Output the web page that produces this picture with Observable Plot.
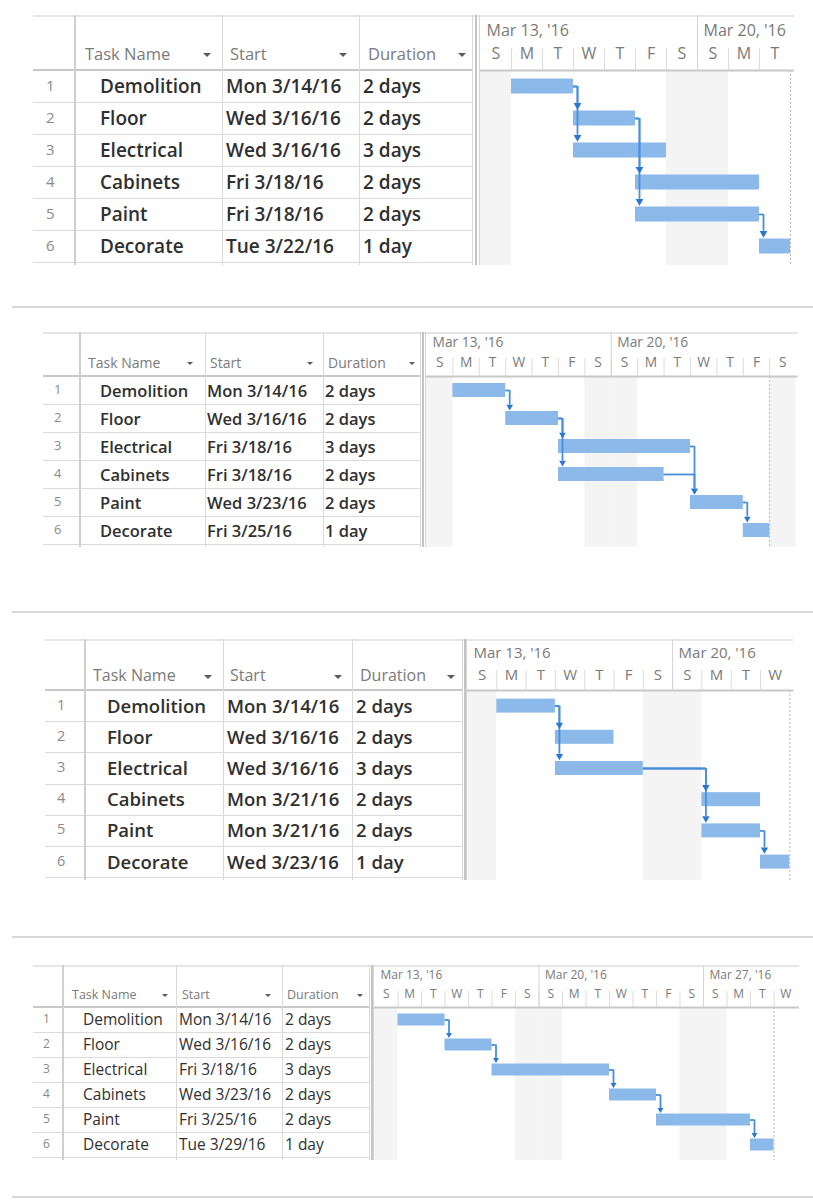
<!DOCTYPE html>
<html>
<head>
<meta charset="utf-8">
<script src="https://cdn.jsdelivr.net/npm/d3@7"></script>
<script src="https://cdn.jsdelivr.net/npm/@observablehq/plot@0.6"></script>
<style>
  body { margin: 0; background: #fff; font-family: "Open Sans", "Noto Sans", sans-serif; }
  #root { position: relative; width: 813px; height: 1200px; overflow: hidden; background: #fff; }
  .panel { position: absolute; left: 0; width: 813px; }
  .ln { position: absolute; }
  .tx { position: absolute; white-space: nowrap; }
  .dd { position: absolute; width: 0; height: 0; border-left-style: solid; border-right-style: solid; border-top-style: solid;
        border-left-color: transparent; border-right-color: transparent; border-top-color: #5a5a5a; }
</style>
</head>
<body>
<div id="root"></div>
<script>
// ---------------- DATA ----------------
const rowNumbers = [1, 2, 3, 4, 5, 6];
const taskNames = ["Demolition", "Floor", "Electrical", "Cabinets", "Paint", "Decorate"];
const columnHeaders = ["Task Name", "Start", "Duration"];
const dayLetters = ["S", "M", "T", "W", "T", "F", "S"]; // Sunday .. Saturday
const weekLabels = ["Mar 13, '16", "Mar 20, '16", "Mar 27, '16"];

const starts1 = ["Mon 3/14/16", "Wed 3/16/16", "Wed 3/16/16", "Fri 3/18/16", "Fri 3/18/16", "Tue 3/22/16"];
const durations1 = ["2 days", "2 days", "3 days", "2 days", "2 days", "1 day"];
const links1 = [[1, 2], [1, 3], [2, 4], [2, 5], [5, 6]];

const starts2 = ["Mon 3/14/16", "Wed 3/16/16", "Fri 3/18/16", "Fri 3/18/16", "Wed 3/23/16", "Fri 3/25/16"];
const durations2 = ["2 days", "2 days", "3 days", "2 days", "2 days", "1 day"];
const links2 = [[1, 2], [2, 3], [2, 4], [3, 5], [4, 5], [5, 6]];

const starts3 = ["Mon 3/14/16", "Wed 3/16/16", "Wed 3/16/16", "Mon 3/21/16", "Mon 3/21/16", "Wed 3/23/16"];
const durations3 = ["2 days", "2 days", "3 days", "2 days", "2 days", "1 day"];
const links3 = [[1, 2], [1, 3], [3, 4], [3, 5], [5, 6]];

const starts4 = ["Mon 3/14/16", "Wed 3/16/16", "Fri 3/18/16", "Wed 3/23/16", "Fri 3/25/16", "Tue 3/29/16"];
const durations4 = ["2 days", "2 days", "3 days", "2 days", "2 days", "1 day"];
const links4 = [[1, 2], [2, 3], [3, 4], [4, 5], [5, 6]];

const timelineStart = "3/13/16";

// ---------------- LAYOUT (positions / sizes / styles) ----------------
const separators = [307, 612, 937, 1197];
const layouts = [
  {starts: starts1, durations: durations1, links: links1, nDays: 10,
   top: 15, left: 33, cols: [42, 147, 137, 114], gap: 7, headerH: 55, rowH: 32, dayW: 31, extra: 4,
   bodyFs: 19, headFs: 16.5, numFs: 15, tlFs: 16, barH: 15, numPad: 13, namePad: 25, cellPad: 4,
   headPad: [10, 8, 9], arrowOff: [15, 16, 11], headY: 38, weekY: 15, tickLen: 22, weight: 600, dd: 4, arrowSide: 10},
  {starts: starts2, durations: durations2, links: links2, nDays: 14,
   top: 332, left: 43, cols: [37, 125, 118, 98], gap: 5, headerH: 44, rowH: 28, dayW: 26.4, extra: 2,
   bodyFs: 16.5, headFs: 14, numFs: 13, tlFs: 13.8, barH: 14, numPad: 11, namePad: 20, cellPad: 2,
   headPad: [8, 5, 5], arrowOff: [15, 13, 9], headY: 30, weekY: 10, tickLen: 18, weight: 600, dd: 3.5, arrowSide: 8.5},
  {starts: starts3, durations: durations3, links: links3, nDays: 11,
   top: 639, left: 45, cols: [40, 138, 129, 111], gap: 4, headerH: 51, rowH: 31.2, dayW: 29.3, extra: 4,
   bodyFs: 18.5, headFs: 16, numFs: 14.5, tlFs: 15, barH: 14, numPad: 12, namePad: 22, cellPad: 4,
   headPad: [8, 7, 8], arrowOff: [15, 14, 12], headY: 36, weekY: 14, tickLen: 20, weight: 600, dd: 4, arrowSide: 9.5},
  {starts: starts4, durations: durations4, links: links4, nDays: 18,
   top: 965, left: 33, cols: [30, 113, 106, 88], gap: 4, headerH: 42, rowH: 25, dayW: 23.5, extra: 2,
   bodyFs: 15.5, headFs: 12.5, numFs: 12, tlFs: 12, barH: 12, numPad: 10, namePad: 20, cellPad: 3,
   headPad: [9, 6, 5], arrowOff: [11, 14, 10], headY: 29, weekY: 10, tickLen: 16, weight: 400, dd: 3, arrowSide: 7.5}
];

const BAR = "#8ab9ea", LINK = "#4a8edb", ARROW = "#2a77d2", WEEKEND = "#f4f4f4";
const GRID = "#dadada", HEADLINE = "#c8c8c8", HEADTXT = "#7a7a7a", NUMTXT = "#8a8a8a", BODYTXT = "#303030";

// ---------------- HELPERS ----------------
function parseDate(s) {
  const m = s.match(/(\d+)\/(\d+)\/(\d+)/);
  return new Date(Date.UTC(2000 + +m[3], +m[1] - 1, +m[2]));
}
const isWeekend = d => d.getUTCDay() === 0 || d.getUTCDay() === 6;
function finishOf(start, dur) {
  let n = parseInt(dur, 10), d = start;
  while (n > 0) { if (!isWeekend(d)) n--; d = d3.utcDay.offset(d, 1); }
  return d; // end of last working day
}
function el(parent, cls, css, text) {
  const d = document.createElement("div");
  d.className = cls; d.style.cssText = css;
  if (text != null) d.textContent = text;
  parent.appendChild(d); return d;
}
const hline = (p, x, y, w, h, c) => el(p, "ln", `left:${x}px;top:${y}px;width:${w}px;height:${h}px;background:${c}`);
const txt = (p, s, x, yc, fs, color, weight) => {
  const lh = Math.round(fs * 1.5);
  return el(p, "tx", `left:${x}px;top:${yc - lh / 2}px;height:${lh}px;line-height:${lh}px;font-size:${fs}px;color:${color};font-weight:${weight}`, s);
};

// ---------------- BUILD ----------------
const root = document.getElementById("root");
separators.forEach(y => hline(root, 12, y - 1, 801, 2, "#d8d8d8"));

layouts.forEach(L => {
  const panel = el(root, "panel", `top:${L.top}px;height:${L.headerH + 6 * L.rowH + 4}px`);
  const colX = [L.left];
  L.cols.forEach(w => colX.push(colX[colX.length - 1] + w));
  const tableRight = colX[4];
  const ganttLeft = tableRight + L.gap;
  const ganttW = L.nDays * L.dayW;
  const totalH = L.headerH + 6 * L.rowH + 3;

  // table grid
  hline(panel, L.left, 0, ganttLeft + ganttW + L.extra - L.left, 2, "#e6e6e6");
  for (let k = 1; k <= 6; k++) hline(panel, L.left, L.headerH + k * L.rowH, tableRight - L.left, 1, GRID);
  hline(panel, L.left, L.headerH - 1, tableRight - L.left, 2, HEADLINE);
  hline(panel, colX[1] - 1, 0, 2, totalH, "#cfcfcf");
  hline(panel, colX[2], 0, 1, totalH, GRID);
  hline(panel, colX[3], 0, 1, totalH, GRID);
  hline(panel, tableRight - 1, 0, 1, totalH, GRID);
  hline(panel, tableRight + Math.max(1, L.gap - 5), 0, 2, totalH, "#c4c4c4");
  hline(panel, ganttLeft - 1, 0, 1, totalH, "#d6d6d6");

  // header labels + dropdown arrows
  columnHeaders.forEach((h, j) => {
    txt(panel, h, colX[j + 1] + L.headPad[j], L.headY, L.headFs, HEADTXT, 400);
    el(panel, "dd", `left:${colX[j + 2] - L.arrowOff[j] - L.dd}px;top:${L.headY}px;border-left-width:${L.dd}px;border-right-width:${L.dd}px;border-top-width:${L.dd}px`);
  });

  // rows
  taskNames.forEach((name, i) => {
    const yc = L.headerH + (i + 0.5) * L.rowH;
    txt(panel, String(rowNumbers[i]), L.left + L.numPad, yc - 1, L.numFs, NUMTXT, 400);
    txt(panel, name, colX[1] + L.namePad, yc, L.bodyFs, BODYTXT, L.weight);
    txt(panel, L.starts[i], colX[2] + L.cellPad, yc, L.bodyFs, BODYTXT, L.weight);
    txt(panel, L.durations[i], colX[3] + L.cellPad, yc, L.bodyFs, BODYTXT, L.weight);
  });

  // gantt data
  const t0 = parseDate(timelineStart);
  const t1 = d3.utcDay.offset(t0, L.nDays);
  const days = d3.utcDay.range(t0, t1);
  const sundays = days.filter(d => d.getUTCDay() === 0);
  const tasks = taskNames.map((name, i) => {
    const start = parseDate(L.starts[i]);
    return {row: rowNumbers[i], name, start, finish: finishOf(start, L.durations[i])};
  });
  const links = L.links.map(([a, b]) => ({a: tasks[a - 1], b: tasks[b - 1]}));
  const projectFinish = d3.max(tasks, d => d.finish);
  const barInset = (L.rowH - L.barH) / 2;
  // filled triangle (d3 symbolTriangle2) of side s: area, radius, centroid-to-tip distance
  const s = L.arrowSide;
  const triArea = Math.sqrt(3) / 4 * s * s;
  const triR = Math.sqrt(triArea / Math.PI);
  const triTip = 2 * Math.sqrt(triArea / (3 * Math.sqrt(3)));
  const triBase = triTip / 2;

  const chart = Plot.plot({
    width: ganttW + L.extra,
    height: totalH,
    marginLeft: 0, marginRight: L.extra, marginTop: L.headerH, marginBottom: 3,
    x: {type: "utc", domain: [t0, t1], axis: null},
    y: {domain: [0.5, 6.5], reverse: true, axis: null},
    style: {fontFamily: "'Open Sans', sans-serif", background: "transparent", overflow: "visible"},
    marks: [
      // weekend shading
      Plot.barX(days.filter(isWeekend), {x1: d => d, x2: d => d3.utcDay.offset(d, 1), fill: WEEKEND, insetBottom: -3}),
      // project finish line
      Plot.ruleX([projectFinish], {x: d => d, stroke: "#b8b8b8", strokeDasharray: "2,2", insetBottom: -3}),
      // header: bottom line, day ticks, week lines
      Plot.ruleY([0.5], {y: d => d, stroke: HEADLINE, strokeWidth: 2, insetRight: -L.extra}),
      Plot.ruleX(days.slice(1), {x: d => d, y1: 0.5, y2: 0.5, insetTop: -L.tickLen, stroke: "#dcdcdc"}),
      Plot.ruleX(sundays.filter(d => +d !== +t0), {x: d => d, y1: 0.5, y2: 0.5, insetTop: -L.headerH, stroke: "#d4d4d4"}),
      Plot.text(sundays, {x: d => d, y: 0.5, text: (d, i) => weekLabels[i], textAnchor: "start", dx: 6,
        dy: -(L.headerH - L.weekY), fontSize: L.tlFs, fill: HEADTXT}),
      Plot.text(days, {x: d => d3.utcHour.offset(d, 12), y: 0.5, text: d => dayLetters[d.getUTCDay()],
        dy: -(L.headerH - L.headY), fontSize: L.tlFs, fill: HEADTXT}),
      // task bars
      Plot.rect(tasks, {x1: "start", x2: "finish", y1: d => d.row - 0.5, y2: d => d.row + 0.5,
        insetTop: barInset, insetBottom: barInset, fill: BAR}),
      // dependency links
      Plot.ruleY(links, {y: d => d.a.row, x1: d => d.a.finish, x2: d => d.b.start, insetRight: -4,
        stroke: LINK, strokeWidth: 1.8}),
      Plot.ruleX(links, {x: d => d.b.start, y1: d => d.a.row, y2: d => d.b.row - 0.5, dx: 4,
        insetBottom: triTip + triBase - barInset - 1, stroke: LINK, strokeWidth: 1.8}),
      Plot.dot(links, {x: d => d.b.start, y: d => d.b.row - 0.5, dx: 4, dy: barInset - triTip,
        symbol: "triangle2", r: triR, rotate: 180, fill: ARROW, stroke: null})
    ]
  });
  chart.style.position = "absolute";
  chart.style.left = ganttLeft + "px";
  chart.style.top = "0px";
  panel.appendChild(chart);
});
</script>
</body>
</html>
